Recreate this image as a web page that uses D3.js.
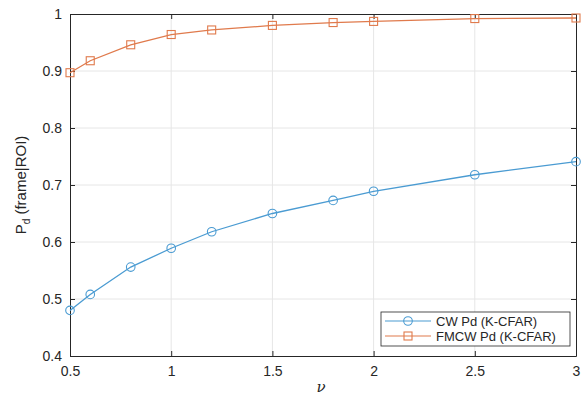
<!DOCTYPE html>
<html>
<head>
<meta charset="utf-8">
<script src="https://cdn.jsdelivr.net/npm/d3@7"></script>
<style>
  body { margin: 0; background: #fff; }
  svg { font-family: "Liberation Sans", Arial, sans-serif; }
</style>
</head>
<body>
<svg id="chart"></svg>
<script>
const width = 585;
const height = 398;
const margin = { top: 14, right: 9, bottom: 42, left: 70 };

const nu = [0.5, 0.6, 0.8, 1, 1.2, 1.5, 1.8, 2, 2.5, 3];
const cwPd = [0.48, 0.508, 0.556, 0.589, 0.618, 0.65, 0.673, 0.689, 0.718, 0.741];
const fmcwPd = [0.897, 0.918, 0.946, 0.964, 0.972, 0.98, 0.985, 0.987, 0.992, 0.993];
const xTicks = [0.5, 1, 1.5, 2, 2.5, 3];
const yTicks = [0.4, 0.5, 0.6, 0.7, 0.8, 0.9, 1];
const seriesNames = ["CW Pd (K-CFAR)", "FMCW Pd (K-CFAR)"];

const blue = "#4a9bd2";
const orange = "#e07a4c";
const axisColor = "#262626";

const svg = d3.select("#chart").attr("width", width).attr("height", height);

const chartWidth = width - margin.left - margin.right;
const chartHeight = height - margin.top - margin.bottom;

const chart = svg
  .append("g")
  .attr("transform", `translate(${margin.left}, ${margin.top})`);

const xScale = d3.scaleLinear().domain([0.5, 3]).range([0, chartWidth]);
const yScale = d3.scaleLinear().domain([0.4, 1]).range([chartHeight, 0]);

// grid
chart
  .append("g")
  .selectAll("line")
  .data(xTicks.slice(1, -1))
  .enter()
  .append("line")
  .attr("x1", (d) => xScale(d))
  .attr("x2", (d) => xScale(d))
  .attr("y1", 0)
  .attr("y2", chartHeight)
  .attr("stroke", "#e6e6e6");

chart
  .append("g")
  .selectAll("line")
  .data(yTicks.slice(1, -1))
  .enter()
  .append("line")
  .attr("x1", 0)
  .attr("x2", chartWidth)
  .attr("y1", (d) => yScale(d))
  .attr("y2", (d) => yScale(d))
  .attr("stroke", "#e6e6e6");

// axes (ticks inside, box on)
const fmt = (d) => d3.format("~g")(d);
const xAxis = d3.axisBottom(xScale).tickValues(xTicks).tickFormat(fmt).tickSizeInner(-5).tickSizeOuter(0).tickPadding(10);
const yAxis = d3.axisLeft(yScale).tickValues(yTicks).tickFormat(fmt).tickSizeInner(-5).tickSizeOuter(0).tickPadding(8);
const xTop = d3.axisTop(xScale).tickValues(xTicks).tickFormat("").tickSizeInner(-5).tickSizeOuter(0);
const yRight = d3.axisRight(yScale).tickValues(yTicks).tickFormat("").tickSizeInner(-5).tickSizeOuter(0);

const gx = chart.append("g").attr("transform", `translate(0, ${chartHeight})`).call(xAxis);
const gy = chart.append("g").call(yAxis);
const gt = chart.append("g").call(xTop);
const gr = chart.append("g").attr("transform", `translate(${chartWidth}, 0)`).call(yRight);

[gx, gy, gt, gr].forEach((g) => {
  g.select(".domain").attr("stroke", axisColor);
  g.selectAll(".tick line").attr("stroke", axisColor);
  g.selectAll(".tick text").attr("fill", axisColor).attr("font-size", 14);
});

// lines
const line = d3
  .line()
  .x((d, i) => xScale(nu[i]))
  .y((d) => yScale(d));

chart.append("path").datum(cwPd).attr("d", line).attr("fill", "none").attr("stroke", blue).attr("stroke-width", 1.3);
chart.append("path").datum(fmcwPd).attr("d", line).attr("fill", "none").attr("stroke", orange).attr("stroke-width", 1.3);

chart
  .selectAll(".cw")
  .data(cwPd)
  .enter()
  .append("circle")
  .attr("class", "cw")
  .attr("cx", (d, i) => xScale(nu[i]))
  .attr("cy", (d) => yScale(d))
  .attr("r", 4.3)
  .attr("fill", "none")
  .attr("stroke", blue)
  .attr("stroke-width", 1.1);

chart
  .selectAll(".fm")
  .data(fmcwPd)
  .enter()
  .append("rect")
  .attr("class", "fm")
  .attr("x", (d, i) => xScale(nu[i]) - 4)
  .attr("y", (d) => yScale(d) - 4)
  .attr("width", 8)
  .attr("height", 8)
  .attr("fill", "none")
  .attr("stroke", orange)
  .attr("stroke-width", 1.1);

// axis labels
svg
  .append("text")
  .attr("x", 321)
  .attr("y", 392)
  .attr("text-anchor", "middle")
  .attr("font-family", "'DejaVu Serif', serif")
  .attr("font-style", "italic")
  .attr("font-size", 15)
  .attr("fill", axisColor)
  .text("ν");

const yl = svg
  .append("text")
  .attr("transform", "translate(26, 185) rotate(-90)")
  .attr("text-anchor", "middle")
  .attr("font-size", 15)
  .attr("fill", axisColor);
yl.append("tspan").text("P");
yl.append("tspan").attr("font-size", 10).attr("dy", 4).text("d");
yl.append("tspan").attr("dy", -4).text(" (frame|ROI)");

// legend
const legend = svg.append("g").attr("transform", "translate(381, 312)");
legend
  .append("rect")
  .attr("width", 189)
  .attr("height", 34)
  .attr("fill", "#fff")
  .attr("stroke", axisColor)
  .attr("stroke-width", 0.8);

const colors = [blue, orange];
seriesNames.forEach((name, i) => {
  const y = 9 + i * 15;
  legend.append("line").attr("x1", 4).attr("x2", 50).attr("y1", y).attr("y2", y).attr("stroke", colors[i]).attr("stroke-width", 1.2);
  if (i === 0) {
    legend.append("circle").attr("cx", 27).attr("cy", y).attr("r", 4.3).attr("fill", "none").attr("stroke", colors[i]).attr("stroke-width", 1.1);
  } else {
    legend.append("rect").attr("x", 23).attr("y", y - 4).attr("width", 8).attr("height", 8).attr("fill", "none").attr("stroke", colors[i]).attr("stroke-width", 1.1);
  }
  legend
    .append("text")
    .attr("x", 55)
    .attr("y", y)
    .attr("dy", "0.35em")
    .attr("font-size", 13)
    .attr("fill", axisColor)
    .text(name);
});
</script>
</body>
</html>
